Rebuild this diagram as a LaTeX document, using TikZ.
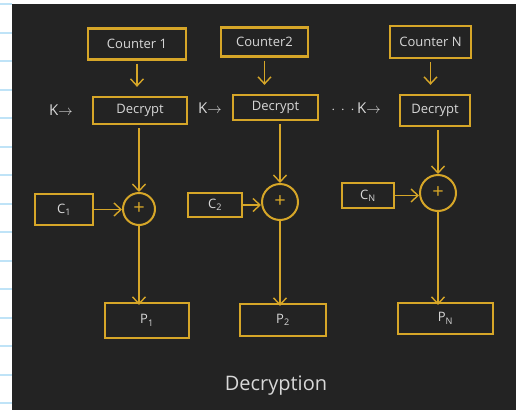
\documentclass[tikz,border=0pt]{standalone}
\usepackage{fontspec}
\setmainfont{Open Sans}
\usetikzlibrary{arrows.meta}
\definecolor{bg}{HTML}{232323}
\definecolor{gold}{HTML}{D6A628}
\definecolor{chalk}{HTML}{D8D8D8}
\definecolor{rule}{HTML}{BFE3F7}
\tikzset{
  blk/.style={draw=gold, line width=2.3pt, minimum width=#1, inner sep=0pt, text=chalk, font=\fontsize{13}{14}\selectfont},
  xorc/.style={draw=gold, line width=2pt, circle, minimum size=#1, inner sep=0pt, text=gold, font=\fontsize{20}{20}\selectfont},
  flow/.style={draw=gold, line width=1.4pt, -{Straight Barb[length=7pt,width=13pt]}},
  lbl/.style={text=chalk, font=\fontsize{15}{15}\selectfont, inner sep=0pt}
}
\begin{document}
\begin{tikzpicture}[x=1pt,y=-1pt]
\useasboundingbox (0,0) rectangle (516,410);
\fill[white] (0,0) rectangle (516,410);
\foreach \k in {0,...,14} { \fill[rule] (0,{3+28.5*\k}) rectangle (12,{5+28.5*\k}); }
\fill[bg] (12,4) rectangle (516,410);

% counters
\node[blk=98pt, minimum height=31pt] (c1) at (137,44) {Counter 1};
\node[blk=87pt, minimum height=29pt] (c2) at (264.5,42) {Counter2};
\node[blk=81pt, minimum height=32pt] (cn) at (430.5,42) {Counter N};

% decrypt
\node[blk=94pt, minimum height=27pt] (d1) at (140,110.5) {Decrypt};
\node[blk=85pt, minimum height=25pt] (d2) at (275.5,107.5) {Decrypt};
\node[blk=70pt, minimum height=31pt] (dn) at (435,110.5) {Decrypt};

% key labels
\node[lbl] (k1) at (61,110) {K$\rightarrow$};
\node[lbl] (k2) at (210,108) {K$\rightarrow$};
\node[lbl] (kn) at (356,108) {$\cdot\,\cdot\,\cdot$\,K$\rightarrow$};

% xor
\node[xorc=32pt] (x1) at (139,209) {+};
\node[xorc=36pt] (x2) at (280,202) {+};
\node[xorc=36pt] (xn) at (438,193) {+};

% ciphertext
\node[blk=58pt, minimum height=31pt] (ci1) at (64,209.5) {C\textsubscript{1}};
\node[blk=54pt, minimum height=24pt] (ci2) at (215,205) {C\textsubscript{2}};
\node[blk=52pt, minimum height=25pt] (cin) at (368,195.5) {C\textsubscript{N}};

% plaintext
\node[blk=84pt, minimum height=35pt] (p1) at (147,320.5) {P\textsubscript{1}};
\node[blk=86pt, minimum height=32pt] (p2) at (283,320) {P\textsubscript{2}};
\node[blk=95pt, minimum height=31pt] (pn) at (445.5,318.5) {P\textsubscript{N}};

\node[text=chalk, font=\fontsize{20}{20}\selectfont] (title) at (276,386) {Decryption};

% connectors
\draw[flow] ([yshift=-3pt]c1.south) -- ([yshift=9pt]c1.south |- d1.north);
\draw[flow] ([yshift=-3pt]c2.south) -- ([yshift=9pt]c2.south |- d2.north);
\draw[flow] ([yshift=-3pt]cn.south) -- ([yshift=9pt]cn.south |- dn.north);

\draw[flow] ([yshift=-3pt]x1.north |- d1.south) -- (x1.north);
\draw[flow] ([yshift=-3pt]x2.north |- d2.south) -- (x2.north);
\draw[flow] ([yshift=-3pt]xn.north |- dn.south) -- (xn.north);

\draw[flow] (ci1.east) -- (ci1.east -| x1.west);
\draw[flow] (ci2.east) -- (ci2.east -| x2.west);
\draw[flow] (cin.east) -- (cin.east -| xn.west);

\draw[flow] (x1.south) -- ([yshift=-3pt]x1.south |- p1.north);
\draw[flow] (x2.south) -- ([yshift=-3pt]x2.south |- p2.north);
\draw[flow] (xn.south) -- ([yshift=-3pt]xn.south |- pn.north);
\end{tikzpicture}
\end{document}
